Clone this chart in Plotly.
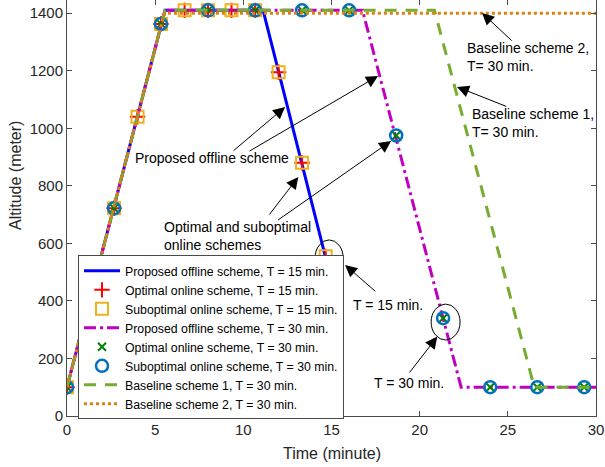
import plotly.graph_objects as go

# ---------------- data ----------------
# Proposed offline scheme, T = 15 min (line)
t_off15 = [0, 5.56, 11.12, 15.0]
alt_off15 = [100, 1410, 1410, 470]

# Optimal / suboptimal online schemes, T = 15 min (markers)
t_on15 = [0, 1.33, 2.67, 4.0, 5.33, 6.67, 8.0, 9.33, 10.67, 12.0, 13.33, 14.67]
alt_on15 = [100, 415, 722, 1040, 1363, 1410, 1410, 1410, 1410, 1195, 880, 555]

# Proposed offline scheme, T = 30 min (line)
t_off30 = [0, 5.56, 16.76, 22.35, 30]
alt_off30 = [100, 1410, 1410, 100, 100]

# Optimal / suboptimal online schemes, T = 30 min (markers)
t_on30 = [0, 2.67, 5.33, 8.0, 10.67, 13.33, 16.0, 18.67, 21.33, 24.0, 26.67, 29.33]
alt_on30 = [100, 722, 1363, 1410, 1410, 1410, 1410, 975, 340, 100, 100, 100]

# Baseline scheme 1, T = 30 min
t_base1 = [0, 5.56, 20.84, 26.5, 30]
alt_base1 = [100, 1410, 1410, 100, 100]

# Baseline scheme 2, T = 30 min
t_base2 = [0, 5.52, 30]
alt_base2 = [100, 1400, 1400]

x_ticks = [0, 5, 10, 15, 20, 25, 30]
y_ticks = [0, 200, 400, 600, 800, 1000, 1200, 1400]

FONT = "Liberation Sans, Arial, Helvetica, sans-serif"
AX = "#262626"

fig = go.Figure()
fig.add_trace(go.Scatter(x=t_off15, y=alt_off15, mode="lines",
                         name="Proposed offline scheme, T = 15 min.",
                         line=dict(color="#0000FF", width=3)))
fig.add_trace(go.Scatter(x=t_on15, y=alt_on15, mode="markers",
                         name="Optimal online scheme, T = 15 min.",
                         marker=dict(symbol="cross-thin-open", size=11, color="#FF0000",
                                     line=dict(color="#FF0000", width=2))))
fig.add_trace(go.Scatter(x=t_on15, y=alt_on15, mode="markers",
                         name="Suboptimal online scheme, T = 15 min.",
                         marker=dict(symbol="square-open", size=12, color="#EDB120",
                                     line=dict(color="#EDB120", width=2))))
fig.add_trace(go.Scatter(x=t_off30, y=alt_off30, mode="lines",
                         name="Proposed offline scheme, T = 30 min.",
                         line=dict(color="#C000C0", width=3, dash="12px,4px,3px,4px")))
fig.add_trace(go.Scatter(x=t_on30, y=alt_on30, mode="markers",
                         name="Optimal online scheme, T = 30 min.",
                         marker=dict(symbol="x-thin-open", size=8, color="#008000",
                                     line=dict(color="#008000", width=2))))
fig.add_trace(go.Scatter(x=t_on30, y=alt_on30, mode="markers",
                         name="Suboptimal online scheme, T = 30 min.",
                         marker=dict(symbol="circle-open", size=12, color="#0072BD",
                                     line=dict(color="#0072BD", width=2.5))))
fig.add_trace(go.Scatter(x=t_base1, y=alt_base1, mode="lines",
                         name="Baseline scheme 1, T = 30 min.",
                         line=dict(color="#77AC30", width=3, dash="12px,9px")))
fig.add_trace(go.Scatter(x=t_base2, y=alt_base2, mode="lines",
                         name="Baseline scheme 2, T = 30 min.",
                         line=dict(color="#E0800F", width=3, dash="3px,3px")))

axis_common = dict(showline=True, linecolor="#4a4a4a", linewidth=1, mirror="ticks",
                   ticks="inside", ticklen=5, tickcolor="#4a4a4a", showgrid=False,
                   zeroline=False, tickfont=dict(family=FONT, size=15, color=AX))
fig.update_xaxes(range=[0, 30], tickvals=x_ticks, **axis_common)
fig.update_yaxes(range=[0, 1446], tickvals=y_ticks, **axis_common)

ann = []
def text(x, y, s, anchor="left"):
    ann.append(dict(x=x, y=y, xref="x", yref="y", text=s, showarrow=False,
                    xanchor=anchor, yanchor="middle", align="left",
                    font=dict(family=FONT, size=14, color="#000000")))
def arrow(x0, y0, x1, y1):
    ann.append(dict(x=x1, y=y1, ax=x0, ay=y0, xref="x", yref="y", axref="x", ayref="y",
                    text="", showarrow=True, arrowhead=2, arrowsize=2.4, arrowwidth=1,
                    arrowcolor="#000000", standoff=0, startstandoff=0))

text(3.74, 897, "Proposed offline scheme")
arrow(9.36, 918, 12.37, 1074)
arrow(10.27, 918, 17.64, 1182)

text(5.39, 624, "Optimal and suboptimal<br>online schemes")
arrow(11.41, 695, 13.12, 831)
arrow(11.89, 678, 18.38, 956)

text(16.1, 386, "T = 15 min.")
arrow(17.57, 429, 15.77, 525)

text(17.3, 115, "T = 30 min.")
arrow(19.36, 146, 21.0, 276)

text(22.57, 1248, "Baseline scheme 2,<br>T= 30 min.")
arrow(25.3, 1300, 23.54, 1401)

text(22.86, 1018, "Baseline scheme 1,<br>T= 30 min.")
arrow(25.0, 1074, 22.12, 1144)

# axis titles
ann.append(dict(x=0.5, y=-0.089, xref="paper", yref="paper", text="Time (minute)",
                showarrow=False, xanchor="center", yanchor="middle",
                font=dict(family=FONT, size=16, color=AX)))
ann.append(dict(x=-0.0964, y=0.577, xref="paper", yref="paper", text="Altitude (meter)",
                showarrow=False, textangle=-90, xanchor="center", yanchor="middle",
                font=dict(family=FONT, size=16, color=AX)))

shapes = [
    dict(type="circle", xref="x", yref="y", x0=14.07, x1=15.66, y0=487, y1=612,
         line=dict(color="#000000", width=1)),
    dict(type="circle", xref="x", yref="y", x0=20.65, x1=22.29, y0=264, y1=389,
         line=dict(color="#000000", width=1)),
]

fig.update_layout(
    width=605, height=467,
    margin=dict(l=67, r=9, t=0, b=51),
    paper_bgcolor="white", plot_bgcolor="white",
    annotations=ann, shapes=shapes,
    showlegend=True,
    legend=dict(x=0.0208, y=-0.008, xanchor="left", yanchor="bottom",
                bgcolor="white", bordercolor="#4a4a4a", borderwidth=1,
                itemwidth=36, tracegroupgap=0,
                font=dict(family=FONT, size=12.3, color="#000000")),
)

fig.write_html("out.html", config={"displayModeBar": False},
               post_script="document.body.style.margin='0px';document.body.style.padding='0px';")
